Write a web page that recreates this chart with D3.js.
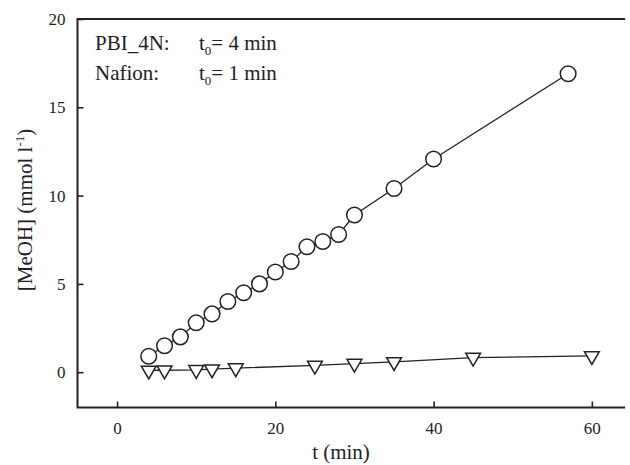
<!DOCTYPE html>
<html>
<head>
<meta charset="utf-8">
<script src="https://cdn.jsdelivr.net/npm/d3@7"></script>
<style>
  html, body { margin: 0; background: #fff; overflow: hidden; }
  svg { display: block; overflow: hidden; }
  text { font-family: "Liberation Serif", "DejaVu Serif", serif; fill: #222; }
</style>
</head>
<body>
<svg id="chart" width="630" height="465"></svg>
<script>
// PBI_4N (circles)
var pbiT = [4, 6, 8, 10, 12, 14, 16, 18, 20, 22, 24, 26, 28, 30, 35, 40, 57];
var pbiC = [0.9, 1.5, 2.0, 2.8, 3.3, 4.0, 4.5, 5.0, 5.67, 6.27, 7.1, 7.4, 7.8, 8.9, 10.4, 12.07, 16.9];
// Nafion (triangles)
var nafT = [4, 6, 10, 12, 15, 25, 30, 35, 45, 60];
var nafC = [0.1, 0.11, 0.13, 0.17, 0.23, 0.38, 0.49, 0.58, 0.83, 0.92];

var xTicks = [0, 20, 40, 60];
var yTicks = [0, 5, 10, 15, 20];

var margin = { left: 77.5, top: 19, bottom: 407.5 };
var svg = d3.select("#chart");

// 7.913 px per minute
var x = d3.scaleLinear().domain([-5, 66]).range([margin.left, margin.left + 71 * 7.913]);
var y = d3.scaleLinear().domain([-2, 20]).range([margin.bottom, margin.top]);

// frame: left, top, bottom (open on the right, the box is cut off there)
svg.append("path")
    .attr("d", "M" + x(64.2) + "," + y(20) + "H" + x(-5) + "V" + y(-2) + "H" + x(64.2))
    .attr("fill", "none").attr("stroke", "#222").attr("stroke-width", 2);

// axes, ticks inward
var xAxis = svg.append("g")
    .attr("transform", "translate(0," + y(-2) + ")")
    .call(d3.axisBottom(x).tickValues(xTicks).tickSize(-6).tickPadding(14));
var yAxis = svg.append("g")
    .attr("transform", "translate(" + x(-5) + ",0)")
    .call(d3.axisLeft(y).tickValues(yTicks).tickSize(-6).tickPadding(12));

[xAxis, yAxis].forEach(function (g) {
    g.select(".domain").remove();
    g.selectAll(".tick line").attr("stroke", "#222").attr("stroke-width", 1.6);
    g.selectAll(".tick text")
        .style("font-family", "Liberation Serif, serif")
        .style("font-size", "17px")
        .attr("fill", "#222");
});

// lines
var line = d3.line().x(d => x(d[0])).y(d => y(d[1]));
var pbi = pbiT.map((t, i) => [t, pbiC[i]]);
var naf = nafT.map((t, i) => [t, nafC[i]]);

svg.append("path").datum(pbi).attr("d", line)
    .attr("fill", "none").attr("stroke", "#222").attr("stroke-width", 1.3);
svg.append("path").datum(naf).attr("d", line)
    .attr("fill", "none").attr("stroke", "#222").attr("stroke-width", 1.3);

svg.append("g").selectAll("circle")
    .data(pbi).enter().append("circle")
    .attr("cx", d => x(d[0])).attr("cy", d => y(d[1]))
    .attr("r", 7.8)
    .attr("fill", "#fff").attr("stroke", "#222").attr("stroke-width", 1.5);

var tri = d3.symbol().type(d3.symbolTriangle).size(95);
svg.append("g").selectAll("path")
    .data(naf).enter().append("path")
    .attr("d", tri)
    .attr("transform", d => "translate(" + x(d[0]) + "," + y(d[1]) + ") rotate(180)")
    .attr("fill", "#fff").attr("stroke", "#222").attr("stroke-width", 1.5);

// annotation
var note = [["PBI_4N:", "4"], ["Nafion:", "1"]];
note.forEach(function (n, i) {
    var by = 50 + i * 30;
    svg.append("text").attr("x", 95).attr("y", by)
        .style("font-size", "21px").text(n[0]);
    var t = svg.append("text").attr("x", 199).attr("y", by).style("font-size", "21px");
    t.append("tspan").text("t");
    t.append("tspan").attr("dy", 5).style("font-size", "13px").text("0");
    t.append("tspan").attr("dy", -5).text("= " + n[1] + " min");
});

// axis titles
svg.append("text")
    .attr("x", 341).attr("y", 459)
    .attr("text-anchor", "middle")
    .style("font-size", "21px")
    .text("t (min)");

var yt = svg.append("text")
    .attr("transform", "translate(32,210) rotate(-90)")
    .attr("text-anchor", "middle")
    .style("font-size", "21px");
yt.append("tspan").text("[MeOH] (mmol l");
yt.append("tspan").attr("dy", -8).style("font-size", "13px").text("-1");
yt.append("tspan").attr("dy", 8).text(")");
</script>
</body>
</html>
